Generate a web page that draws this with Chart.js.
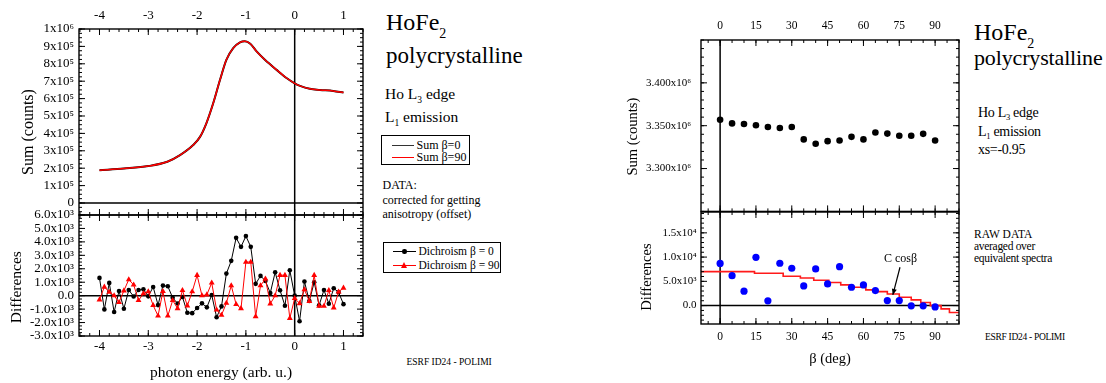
<!DOCTYPE html>
<html><head><meta charset="utf-8">
<script src="https://cdn.jsdelivr.net/npm/chart.js@4.4.1/dist/chart.umd.min.js"></script>
<style>
html,body{margin:0;padding:0;background:#fff;}
body{width:1106px;height:383px;position:relative;overflow:hidden;font-family:"Liberation Serif","Times New Roman",serif;color:#000;}
canvas{position:absolute;}
.t{position:absolute;white-space:nowrap;line-height:1;}
.lg{position:absolute;border:1px solid #000;box-sizing:border-box;}
.ln{position:absolute;height:0;}
</style></head>
<body>
<canvas id="lt" width="370" height="231" style="left:0;top:0;width:370px;height:231px"></canvas>
<canvas id="lb" width="370" height="184" style="left:0;top:199px;width:370px;height:184px"></canvas>
<canvas id="rt" width="370" height="228" style="left:600px;top:0;width:370px;height:228px"></canvas>
<canvas id="rb" width="370" height="187" style="left:600px;top:196px;width:370px;height:187px"></canvas>

<!-- left annotations -->
<div class="t" style="left:386px;top:10px;font-size:24px">HoFe<span style="font-size:14px;position:relative;top:8px">2</span></div>
<div class="t" style="left:386px;top:44px;font-size:23px">polycrystalline</div>
<div class="t" style="left:385px;top:85.5px;font-size:15.5px">Ho L<span style="font-size:9.5px;position:relative;top:4px">3</span> edge</div>
<div class="t" style="left:385px;top:108.5px;font-size:15.5px">L<span style="font-size:9.5px;position:relative;top:4px">1</span> emission</div>

<div class="lg" style="left:381px;top:135px;width:89px;height:30px"></div>
<div class="ln" style="left:392px;top:145px;width:22px;border-top:1px solid #333"></div>
<div class="t" style="left:416.5px;top:139px;font-size:12px">Sum β=0</div>
<div class="ln" style="left:392px;top:157px;width:22px;border-top:1px solid #f00"></div>
<div class="t" style="left:416.5px;top:151px;font-size:12px">Sum β=90</div>

<div class="t" style="left:382.5px;top:179px;font-size:12px">DATA:</div>
<div class="t" style="left:382.5px;top:193.5px;font-size:12px">corrected for getting</div>
<div class="t" style="left:382.5px;top:207.5px;font-size:12px">anisotropy (offset)</div>

<div class="lg" style="left:382.5px;top:242px;width:118px;height:31px"></div>
<div class="ln" style="left:393px;top:251px;width:23px;border-top:1.3px solid #000"></div>
<div style="position:absolute;left:402.3px;top:249.3px;width:4.4px;height:4.4px;border-radius:50%;background:#000"></div>
<div class="t" style="left:418.5px;top:245.5px;font-size:11.5px">Dichroism β = 0</div>
<div class="ln" style="left:393px;top:265px;width:23px;border-top:1.3px solid #f00"></div>
<div style="position:absolute;left:401px;top:262px;width:0;height:0;border-left:3.5px solid transparent;border-right:3.5px solid transparent;border-bottom:6px solid #f00"></div>
<div class="t" style="left:418.5px;top:259.5px;font-size:11.5px">Dichroism β = 90</div>

<div class="t" style="left:406.5px;top:358px;font-size:9.5px">ESRF ID24 - POLIMI</div>

<!-- right annotations -->
<div class="t" style="left:974px;top:20px;font-size:24px">HoFe<span style="font-size:14px;position:relative;top:8px">2</span></div>
<div class="t" style="left:974px;top:47px;font-size:22px;letter-spacing:-0.15px">polycrystalline</div>
<div class="t" style="left:978px;top:105.5px;font-size:14px;letter-spacing:-0.3px">Ho L<span style="font-size:8.5px;position:relative;top:3px">3</span> edge</div>
<div class="t" style="left:978px;top:124.5px;font-size:14px;letter-spacing:-0.3px">L<span style="font-size:8.5px;position:relative;top:3px">1</span> emission</div>
<div class="t" style="left:978px;top:142.5px;font-size:14px;letter-spacing:-0.3px">xs=-0.95</div>
<div class="t" style="left:974px;top:228.5px;font-size:11.5px">RAW DATA</div>
<div class="t" style="left:974px;top:240.5px;font-size:11.5px;letter-spacing:-0.3px">averaged over</div>
<div class="t" style="left:974px;top:252.5px;font-size:11.5px;letter-spacing:-0.3px">equivalent spectra</div>
<div class="t" style="left:985px;top:332.5px;font-size:9.5px;letter-spacing:-0.3px">ESRF ID24 - POLIMI</div>

<script>
// ---------------- data ----------------
const sumEnergy = [-4.0,-3.5,-3.0,-2.61,-2.35,-2.08,-1.94,-1.81,-1.67,-1.53,-1.40,-1.26,-1.12,-1.02,-0.91,-0.78,-0.61,-0.37,-0.16,0.0,0.11,0.31,0.52,0.79,1.0];
const sumBeta0  = [1.88e5,1.98e5,2.12e5,2.37e5,2.75e5,3.33e5,3.80e5,4.58e5,5.73e5,7.08e5,8.23e5,8.90e5,9.23e5,9.29e5,9.15e5,8.71e5,8.23e5,7.65e5,7.17e5,6.88e5,6.73e5,6.56e5,6.50e5,6.44e5,6.35e5];
const sumBeta90 = [1.88e5,1.98e5,2.12e5,2.37e5,2.75e5,3.33e5,3.80e5,4.58e5,5.73e5,7.08e5,8.23e5,8.90e5,9.23e5,9.29e5,9.15e5,8.71e5,8.23e5,7.65e5,7.17e5,6.88e5,6.73e5,6.56e5,6.50e5,6.44e5,6.35e5];

const diffEnergy = [-4.0,-3.9,-3.8,-3.7,-3.6,-3.5,-3.4,-3.3,-3.2,-3.1,-3.0,-2.9,-2.8,-2.7,-2.6,-2.5,-2.4,-2.3,-2.2,-2.1,-2.0,-1.9,-1.8,-1.7,-1.6,-1.5,-1.4,-1.3,-1.2,-1.1,-1.0,-0.9,-0.8,-0.7,-0.6,-0.5,-0.4,-0.3,-0.2,-0.1,0.0,0.1,0.2,0.3,0.4,0.5,0.6,0.7,0.8,0.9,1.0];
const dichroism0  = [1320,-1020,950,-1220,350,-970,420,-60,420,470,-50,650,-700,750,700,-160,-580,-100,-1270,-1300,-920,-570,-870,50,-1600,-800,1640,2590,4300,3630,4430,3630,880,1470,1100,200,1740,400,-750,1890,0,-1900,1050,-400,1000,-720,420,-600,550,250,-630];
const dichroism90 = [-300,650,270,0,-500,370,1200,800,-350,150,300,-720,-1500,320,-1500,-350,-950,400,-750,300,1520,0,70,950,-1050,-1450,-550,750,-650,-950,2500,2500,-1550,750,1250,-600,0,1520,1520,-1680,-200,-580,450,-420,1520,-780,-780,400,-900,280,570];

const beta       = [0,5,10,15,20,25,30,35,40,45,50,55,60,65,70,75,80,85,90];
const sumVsBeta  = [3.3569e6,3.3527e6,3.3520e6,3.3505e6,3.3485e6,3.3474e6,3.3485e6,3.3340e6,3.3290e6,3.3320e6,3.3328e6,3.3370e6,3.3340e6,3.3420e6,3.3408e6,3.3382e6,3.3382e6,3.3405e6,3.3328e6];
const diffVsBeta = [8700,6170,2960,9960,970,8730,7700,4050,7550,4470,8030,3780,4260,3090,1030,1030,-60,-60,-270];
const cosBeta    = [-8,14.4,26.4,33.6,39.2,45.5,50.5,55.4,61,65,70,75,80,84,88,92.5,96,100];
const cosFit     = [7000,6670,6050,5700,5220,4750,4260,3780,3230,2880,2400,1730,1170,620,0,-680,-1440,-1440];

// tick labels
const energyTicks = [-4,-3,-2,-1,0,1];
const energyTickLabels = ['-4','-3','-2','-1','0','1'];
const sumTicks = [0,1e5,2e5,3e5,4e5,5e5,6e5,7e5,8e5,9e5,1e6];
const sumTickLabels = ['0','1x10⁵','2x10⁵','3x10⁵','4x10⁵','5x10⁵','6x10⁵','7x10⁵','8x10⁵','9x10⁵','1x10⁶'];
const diffTicks = [-3000,-2000,-1000,0,1000,2000,3000,4000,5000,6000];
const diffTickLabels = ['-3.0x10³','-2.0x10³','-1.0x10³','0.0','1.0x10³','2.0x10³','3.0x10³','4.0x10³','5.0x10³','6.0x10³'];
const betaTicks = [0,15,30,45,60,75,90];
const betaTickLabels = ['0','15','30','45','60','75','90'];
const sumBetaTicks = [3.30e6,3.35e6,3.40e6];
const sumBetaTickLabels = ['3.300x10⁶','3.350x10⁶','3.400x10⁶'];
const diffBetaTicks = [0,5000,10000,15000];
const diffBetaTickLabels = ['0.0','5.0x10³','1.0x10⁴','1.5x10⁴'];

const cosNoteText = 'C cosβ';
const cosNoteLabel = [75.5, 9600];
const cosNoteFrom = [75.3, 7900];
const cosNoteTo = [72.3, 2200];

// ---------------- helpers ----------------
const FONT = "'Liberation Serif','Times New Roman',serif";
Chart.defaults.font.family = FONT;
Chart.defaults.color = '#000';

const framePlugin = {
  id: 'frame',
  beforeDatasetsDraw(chart, args, o) {
    if (!o || !o.on) return;
    const {ctx, chartArea: a} = chart; const x = chart.scales.x, y = chart.scales.y;
    ctx.save(); ctx.strokeStyle = '#000'; ctx.lineWidth = 1.5; ctx.beginPath();
    if (o.zeroX) { const p = x.getPixelForValue(0); ctx.moveTo(p, a.top); ctx.lineTo(p, a.bottom); }
    if (o.zeroY) { const p = y.getPixelForValue(0); ctx.moveTo(a.left, p); ctx.lineTo(a.right, p); }
    ctx.stroke(); ctx.restore();
  },
  afterDatasetsDraw(chart, args, o) {
    if (!o || !o.on) return;
    const {ctx, chartArea: a} = chart; const x = chart.scales.x, y = chart.scales.y;
    const minors = (s, step) => { const out = []; for (let k = Math.ceil(s.min / step - 1e-9); k * step <= s.max + 1e-9; k++) out.push(k * step); return out; };
    ctx.save(); ctx.strokeStyle = '#000'; ctx.lineWidth = 1; ctx.beginPath();
    const tX = (v, len) => { const p = x.getPixelForValue(v); ctx.moveTo(p, a.top); ctx.lineTo(p, a.top + len); ctx.moveTo(p, a.bottom); ctx.lineTo(p, a.bottom - len); };
    const tY = (v, len) => { const p = y.getPixelForValue(v); ctx.moveTo(a.left, p); ctx.lineTo(a.left + len, p); ctx.moveTo(a.right, p); ctx.lineTo(a.right - len, p); };
    minors(x, o.xMinor).forEach(v => tX(v, 3));
    x.ticks.forEach(t => tX(t.value, 6));
    minors(y, o.yMinor).forEach(v => tY(v, 3));
    y.ticks.forEach(t => tY(t.value, 6));
    ctx.stroke();
    ctx.lineWidth = 1.4;
    ctx.strokeRect(a.left, a.top, a.right - a.left, a.bottom - a.top);
    ctx.restore();
  }
};
Chart.register(framePlugin);

const cosNote = {
  id: 'cosNote',
  afterDatasetsDraw(chart) {
    const {ctx} = chart; const x = chart.scales.x, y = chart.scales.y;
    ctx.save();
    ctx.font = "12px " + FONT; ctx.fillStyle = '#000'; ctx.textAlign = 'center'; ctx.textBaseline = 'middle';
    ctx.fillText(cosNoteText, x.getPixelForValue(cosNoteLabel[0]), y.getPixelForValue(cosNoteLabel[1]));
    const x1 = x.getPixelForValue(cosNoteFrom[0]), y1 = y.getPixelForValue(cosNoteFrom[1]);
    const x2 = x.getPixelForValue(cosNoteTo[0]), y2 = y.getPixelForValue(cosNoteTo[1]);
    ctx.strokeStyle = '#000'; ctx.lineWidth = 1.2;
    ctx.beginPath(); ctx.moveTo(x1, y1); ctx.lineTo(x2, y2); ctx.stroke();
    const ang = Math.atan2(y2 - y1, x2 - x1), L = 6, W = 2.5;
    ctx.beginPath();
    ctx.moveTo(x2, y2);
    ctx.lineTo(x2 - L * Math.cos(ang) + W * Math.sin(ang), y2 - L * Math.sin(ang) - W * Math.cos(ang));
    ctx.lineTo(x2 - L * Math.cos(ang) - W * Math.sin(ang), y2 - L * Math.sin(ang) + W * Math.cos(ang));
    ctx.closePath(); ctx.fillStyle = '#000'; ctx.fill();
    ctx.restore();
  }
};

function axis(opt) {
  const a = {
    type: 'linear', position: opt.position, min: opt.min, max: opt.max,
    grid: {display: false, drawTicks: false}, border: {display: false},
    afterBuildTicks: s => { s.ticks = opt.ticks.map(v => ({value: v})); },
    ticks: {autoSkip: false, maxRotation: 0, minRotation: 0, padding: opt.pad, color: '#000',
            font: {size: opt.fs, family: FONT}, callback: (v, i) => opt.labels[i]},
  };
  if (opt.w !== undefined) a.afterFit = s => { s.width = opt.w; };
  if (opt.h !== undefined) a.afterFit = s => { s.height = opt.h; };
  if (opt.title) a.title = {display: true, text: opt.title, color: '#000', font: {size: opt.tfs, family: FONT}, padding: opt.tpad};
  return a;
}
const pts = (xs, ys) => xs.map((v, i) => ({x: v, y: ys[i]}));
const base = (padding, frame) => ({
  responsive: false, animation: false, devicePixelRatio: 1,
  layout: {padding},
  plugins: {legend: {display: false}, tooltip: {enabled: false}, frame},
});

// ---------------- left top: sums ----------------
new Chart(document.getElementById('lt'), {
  type: 'scatter',
  data: {datasets: [
    {label: 'Sum β=90', data: pts(sumEnergy, sumBeta90), showLine: true, borderColor: '#ff0000', borderWidth: 1.5, pointRadius: 0, cubicInterpolationMode: 'monotone'},
    {label: 'Sum β=0', data: pts(sumEnergy, sumBeta0), showLine: true, borderColor: '#000', borderWidth: 2, pointRadius: 0, cubicInterpolationMode: 'monotone'}
  ]},
  options: Object.assign(base({left: 0, top: 0, right: 7, bottom: 16}, {on: true, xMinor: 0.2, yMinor: 25000, zeroX: true, zeroY: true}), {
    scales: {
      x: axis({position: 'top', min: -4.42, max: 1.4, ticks: energyTicks, labels: energyTickLabels, pad: 6, fs: 13, h: 29}),
      y: axis({position: 'left', min: -69000, max: 1e6, ticks: sumTicks, labels: sumTickLabels, pad: 5, fs: 13, w: 79,
               title: 'Sum (counts)     ', tfs: 16, tpad: {top: 19.5, bottom: 0}})
    }
  })
});

// ---------------- left bottom: differences ----------------
new Chart(document.getElementById('lb'), {
  type: 'scatter',
  data: {datasets: [
    {label: 'Dichroism β = 90', data: pts(diffEnergy, dichroism90), showLine: true, borderColor: '#ff0000', borderWidth: 1, pointStyle: 'triangle', pointRadius: 3.4, pointBackgroundColor: '#ff0000', pointBorderWidth: 0},
    {label: 'Dichroism β = 0', data: pts(diffEnergy, dichroism0), showLine: true, borderColor: '#000', borderWidth: 1, pointStyle: 'circle', pointRadius: 2.3, pointBackgroundColor: '#000', pointBorderWidth: 0}
  ]},
  options: Object.assign(base({left: 0, top: 16, right: 7, bottom: 0}, {on: true, xMinor: 0.2, yMinor: 250, zeroX: true, zeroY: true}), {
    scales: {
      x: axis({position: 'bottom', min: -4.42, max: 1.4, ticks: energyTicks, labels: energyTickLabels, pad: 3, fs: 13, h: 47,
               title: 'photon energy (arb. u.)', tfs: 15.5, tpad: {top: 0, bottom: 0.5}}),
      y: axis({position: 'left', min: -3000, max: 6000, ticks: diffTicks, labels: diffTickLabels, pad: 5, fs: 13, w: 79,
               title: 'Differences      ', tfs: 15.5, tpad: {top: 7.4, bottom: 0}})
    }
  })
});

// ---------------- right top: sum vs beta ----------------
new Chart(document.getElementById('rt'), {
  type: 'scatter',
  data: {datasets: [
    {label: 'Sum', data: pts(beta, sumVsBeta), pointRadius: 3.3, pointBackgroundColor: '#000', pointBorderWidth: 0}
  ]},
  options: Object.assign(base({left: 0, top: 0, right: 11, bottom: 16}, {on: true, xMinor: 5, yMinor: 10000, zeroX: true, zeroY: false}), {
    scales: {
      x: axis({position: 'top', min: -8, max: 100, ticks: betaTicks, labels: betaTickLabels, pad: 6.7, fs: 11.5, h: 40}),
      y: axis({position: 'left', min: 3.25e6, max: 3.45e6, ticks: sumBetaTicks, labels: sumBetaTickLabels, pad: 10, fs: 11, w: 101,
               title: 'Sum (counts)      ', tfs: 14.5, tpad: {top: 24.3, bottom: 0}})
    }
  })
});

// ---------------- right bottom: differences vs beta ----------------
new Chart(document.getElementById('rb'), {
  type: 'scatter',
  data: {datasets: [
    {label: 'Differences', data: pts(beta, diffVsBeta), pointRadius: 3.6, pointBackgroundColor: '#0000ff', pointBorderWidth: 0},
    {label: 'C cosβ', data: pts(cosBeta, cosFit), showLine: true, stepped: true, borderColor: '#ff1a1a', borderWidth: 1.6, pointRadius: 0}
  ]},
  options: Object.assign(base({left: 0, top: 16, right: 11, bottom: 0}, {on: true, xMinor: 5, yMinor: 1000, zeroX: true, zeroY: true}), {
    scales: {
      x: axis({position: 'bottom', min: -8, max: 100, ticks: betaTicks, labels: betaTickLabels, pad: 6, fs: 11.5, h: 59,
               title: 'β (deg)', tfs: 14.5, tpad: {top: 0, bottom: 15.6}}),
      y: axis({position: 'left', min: -3800, max: 19300, ticks: diffBetaTicks, labels: diffBetaTickLabels, pad: 4.5, fs: 11, w: 101,
               title: 'Differences     ', tfs: 14.5, tpad: {top: 38, bottom: 0}})
    }
  }),
  plugins: [cosNote]
});
</script>
</body></html>
